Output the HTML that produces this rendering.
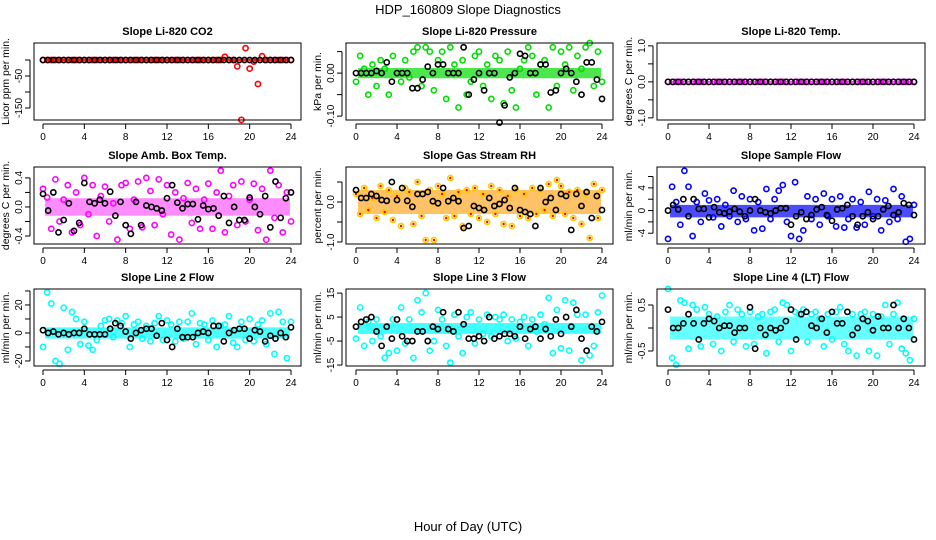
<!DOCTYPE html>
<html><head><meta charset="utf-8"><style>
body{margin:0;background:#fff;}
svg{display:block;font-family:"Liberation Sans",sans-serif;}
</style></head><body>
<svg id="chart" width="936" height="540" viewBox="0 0 936 540">
<rect width="936" height="540" fill="#fff"/>
<text x="468" y="14" text-anchor="middle" font-size="13">HDP_160809  Slope Diagnostics</text>
<text x="468" y="531" text-anchor="middle" font-size="13">Hour of Day (UTC)</text>
</svg>
<script>
const xTicks=[0,4,8,12,16,20,24];
const titles=["Slope Li-820 CO2","Slope Li-820 Pressure","Slope Li-820 Temp.","Slope Amb. Box Temp.","Slope Gas Stream RH","Slope Sample Flow","Slope Line 2 Flow","Slope Line 3 Flow","Slope Line 4 (LT) Flow"];
const yTitles=["Licor ppm per min.","kPa per min.","degrees C per min.","degrees C per min.","percent per min.","ml/min per min.","ml/min per min.","ml/min per min.","ml/min per min."];
const yTicks=[[-150,-100,-50,0],[-0.1,-0.05,0,0.05],[-1,-0.5,0,0.5,1],[-0.4,-0.2,0,0.2,0.4],[-1,-0.5,0,0.5],[-4,-2,0,2,4,6],[-20,-10,0,10,20,30],[-15,-5,5,15],[-0.5,0,0.5]];
const yLabels=[["-150","","-50",""],["-0.10","","0.00",""],["-1.0","","0.0","","1.0"],["-0.4","","0.0","","0.4"],["-1.0","","0.0",""],["-4","","0","","4",""],["-20","","0","","20",""],["-15","-5","5","15"],["-0.5","","0.5"]];
const yTop=[53.1,0.07,1.08,0.55,0.875,7.68,31.4,16.7,0.848];
const yBot=[-187.5,-0.109,-1.06,-0.51,-1.05,-5.9,-23.6,-15.4,-0.826];
const bandLo=[-4,-0.012,-0.02,-0.12,-0.3,-1.2,-4,-2,-0.25];
const bandHi=[4,0.012,0.02,0.12,0.3,1.0,4,2.5,0.25];
const bandOpacity=[0.9,0.7,0.9,0.45,0.6,0.7,0.7,0.75,0.6];
const colors=["#ff0000","#00dd00","#ff00ff","#ff00ff","#ffcc00","#0000ff","#00ffff","#00ffff","#00ffff"];
const col1=[0,0,0,0,0,0,0,0,0,0,0,0,0,0,0,0,0,0,0,0,0,0,0,0,0,0,0,0,0,0,0,0,0,0,0,0,0,0,0,0,0,0,0,0,10,0,0,-20,-187,37,-27,-5,-75,12,0,0,0,0,0,0,0];
const col2=[-.02,.04,.01,-.05,.02,-.03,.03,.01,-.05,.04,0,-.02,.03,-.01,.05,.06,-.03,.06,.05,-.04,.03,.05,-.06,.06,.02,-.08,.03,-.05,-.02,.04,.05,-.03,.02,-.06,.04,.03,-.07,.05,-.04,-.08,.01,.03,.06,.04,-.05,.02,.03,-.08,.06,-.03,.05,.02,.06,-.04,.04,.01,.06,.07,-.03,.05,-.02];
const col3=[0,0,0,0,0,0,0,0,0,0,0,0,0,0,0,0,0,0,0,0,0,0,0,0,0,0,0,0,0,0,0,0,0,0,0,0,0,0,0,0,0,0,0,0,0,0,0,0,0,0,0,0,0,0,0,0,0,0,0,0,0];
const col4=[.25,.13,-.3,.38,-.2,.1,.3,-.35,.2,-.25,.4,-.1,.3,-.4,.15,.28,-.2,.05,-.45,.3,.33,-.3,.1,.35,-.28,.4,.22,-.25,.38,-.1,.3,-.38,.2,-.45,.12,.33,-.22,.25,-.3,.1,.32,-.3,.2,.5,-.35,.15,.3,-.25,.35,-.2,.1,.32,-.32,.25,-.45,.5,-.15,.3,-.35,.2,-.2];
const col5=[.2,-.3,.35,-.2,.1,-.4,.4,-.25,.3,-.45,.15,-.6,.35,.25,-.55,.5,-.35,-.95,.3,-.95,.4,.2,-.4,.6,-.35,.25,-.6,.3,-.3,.35,-.4,.2,-.5,.4,-.3,.3,-.55,.15,-.6,.3,-.35,.2,-.4,.35,-.3,.3,-.2,.45,-.35,.55,.4,-.3,.25,-.4,.3,-.55,.2,-.9,.45,-.4,.3];
const col6=[-5,4.2,1.5,-2.5,7,4.2,-4.5,1.5,-2,3,1.8,-1.2,2,-2.8,1,-1,3.5,-2,2.5,-1.5,2,-3.5,1.5,-3.2,3.8,-1.5,2,3.5,4.5,-2,-4.5,5,-5,-3.5,2.5,-1.5,2,-2.5,3,-1,2,-2.8,2.5,-3,-1.5,2,-3,1.5,-2.5,3.3,-1,2,-3.5,1.8,-2,3.8,-1.5,2.5,-5.5,-5,1];
const col7=[-10,29,21,-20,-22,18,-12,15,10,-8,8,-9,-12,-5,5,9,10,-3,9,7,12,-10,6,8,-4,5,-6,7,12,-5,9,6,-6,8,-4,8,14,-8,7,6,-5,9,-10,5,6,12,-7,-10,8,-5,10,-6,6,9,-8,14,-15,15,8,-18,8];
const col8=[-4,9,-7,3,-5,4,-3,-12,-10,4,-9,9,-6,4,-12,12,7,15,-9,-5,8,4,-7,-14,6,-3,-10,5,7,-6,4,-2,6,-3,5,4,6,-5,4,-4,3,5,-7,4,-1,6,2,13,-10,8,-8,12,-9,11,6,-13,6,-11,-7,7,14];
const col9=[.85,-.65,-.8,.6,.55,-.45,.5,.4,-.4,.45,.3,-.35,.25,-.5,.35,.5,-.3,.4,.3,-.4,.35,-.35,.25,.3,-.55,.35,.4,-.3,.55,.5,-.5,.35,.3,.4,-.3,.3,.35,.2,-.4,.3,-.25,.35,.45,-.35,-.5,.3,-.6,.3,.35,-.5,.3,-.6,.25,.5,-.35,.3,.55,-.45,-.55,-.7,.2];
const blk1=[0,0,0,0,0,0,0,0,0,0,0,0,0,0,0,0,0,0,0,0,0,0,0,0,0,0,0,0,0,0,0,0,0,0,0,0,0,0,0,0,0,0,0,0,0,0,0,0,0];
const blk2=[0,0,0,0,.005,0,.025,-.02,0,0,0,-.035,-.035,-.015,.015,0,.02,.02,0,0,0,.06,-.05,-.015,0,-.04,0,0,-.115,-.075,-.01,0,.045,.04,0,0,.02,.02,-.045,-.04,0,.01,0,-.02,-.05,.025,.025,-.015,-.06];
const blk3=[0,0,0,0,0,0,0,0,0,0,0,0,0,0,0,0,0,0,0,0,0,0,0,0,0,0,0,0,0,0,0,0,0,0,0,0,0,0,0,0,0,0,0,0,0,0,0,0,0];
const blk4=[.18,-.05,.2,-.35,-.18,.05,-.33,-.22,.33,.07,.05,.1,.05,.21,-.12,.07,-.25,-.37,.07,-.25,.02,0,-.02,-.05,.12,.3,.06,-.02,.04,.04,-.17,.02,-.03,-.02,-.12,.15,-.22,0,-.18,-.18,.13,0,-.1,.15,-.28,.35,-.15,.12,.2];
const blk5=[.3,.1,.1,.2,.15,.05,.03,.5,.05,.35,.03,-.12,.2,.2,.25,.02,-.03,.35,.02,.1,.02,-.65,-.6,-.1,-.15,-.2,.1,-.1,-.05,.05,-.15,.35,-.2,-.25,-.3,-.6,.35,0,.1,-.2,.2,.15,-.7,.2,-.1,.25,-.4,.15,-.2];
const blk6=[0,1,.2,2,-1,2,.3,.3,-1.2,.6,-.3,-.5,-.2,.3,-.2,-1,0,2,0,-.3,-.5,0,.4,.4,-2.5,-1,-.3,-1.5,-.8,.2,.6,-.8,-1.8,.2,.4,1,-1,-2.5,-1,-.3,-1.5,-1,.2,.8,-.8,-.3,1.3,1,-.8];
const blk7=[2,0,1,-1,0,-1,0,0,3,-1,-1,-1,-1,3,7,5,1,-4,0,2,3,3,-2,7,-5,-10,3,-3,-3,-3,0,1,0,5,5,-6,0,2,3,3,-4,2,1,-6,-2,-4,0,-3,4];
const blk8=[1,3,4,5,-1,-7,1,-4,4,-3,-5,-5,-1,-1,-5,1,0,7,0,-1,7,2,-4,-4,-3,-5,5,-4,-3,-2,-2,-3,1,-4,0,1,-4,0,-3,4,-2,5,1,8,-4,-9,1,-1,3];
const blk9=[.4,0,0,.1,.3,.1,-.25,.1,.2,.15,0,.05,.05,-.1,0,0,.45,-.45,0,-.15,0,-.05,0,.15,.4,-.25,.3,.35,.05,0,.2,-.1,.35,.1,.1,.35,-.15,0,.2,.15,-.05,.25,0,0,.5,0,.2,0,-.25];

const colSeries=[col1,col2,col3,col4,col5,col6,col7,col8,col9];
const blkSeries=[blk1,blk2,blk3,blk4,blk5,blk6,blk7,blk8,blk9];
const svg=document.getElementById('chart');
const NS='http://www.w3.org/2000/svg';
const boxL=[34,346,657], boxR=[301,613,925], x0s=[43,356,668], x24s=[291,602,914];
const boxT=[43,167,289], boxB=[120,244,366];
function mk(tag,attrs,parent){const e=document.createElementNS(NS,tag);for(const k in attrs)e.setAttribute(k,attrs[k]);(parent||svg).appendChild(e);return e;}
for(let p=0;p<9;p++){
  const c=p%3,r=Math.floor(p/3);
  const g=mk('g',{});
  
  
  const L=boxL[c],R=boxR[c],T=boxT[r],B=boxB[r];
  const xs=h=>x0s[c]+(x24s[c]-x0s[c])*h/24;
  const ys=v=>T+(yTop[p]-v)/(yTop[p]-yBot[p])*(B-T);
  const t=mk('text',{x:(L+R)/2,y:T-8,'text-anchor':'middle','font-size':'11','font-weight':'bold'},g);
  t.textContent=titles[p];
  
  
  const band=mk('rect',{x:xs(0.2),y:ys(bandHi[p]),width:xs(23.9)-xs(0.2),height:ys(bandLo[p])-ys(bandHi[p]),fill:colors[p],opacity:bandOpacity[p]},g);
  
  
  if(p===4){band.setAttribute('fill','#ff9900');}
  const cs=colSeries[p];
  cs.forEach((v,i)=>{
    const cx=xs(i*24/(cs.length-1)), cy=ys(v);
    const pt=mk('circle',{cx:cx,cy:cy,r:2.6,fill:'none',stroke:colors[p],'stroke-width':1.6},g);
    
    
    if(p===4){mk('circle',{cx:cx,cy:cy,r:1.2,fill:'#ff0000'},g);}
  });
  const bs=blkSeries[p];
  bs.forEach((v,i)=>{
    const pt=mk('circle',{cx:xs(i*24/(bs.length-1)),cy:ys(v),r:2.6,fill:'none',stroke:'#000','stroke-width':1.6},g);
    
    
  });
  const box=mk('rect',{x:L,y:T,width:R-L,height:B-T,fill:'none',stroke:'#000','stroke-width':1},g);
  
  
  mk('line',{x1:xs(0),x2:xs(24),y1:B+4,y2:B+4,stroke:'#000'},g);
  xTicks.forEach(h=>{
    mk('line',{x1:xs(h),x2:xs(h),y1:B+4,y2:B+9,stroke:'#000'},g);
    const tl=mk('text',{x:xs(h),y:B+20,'text-anchor':'middle','font-size':'10'},g);
    tl.textContent=h;
    
    
  });
  const yt=yTicks[p];
  mk('line',{x1:L-4,x2:L-4,y1:ys(yt[0]),y2:ys(yt[yt.length-1]),stroke:'#000'},g);
  yt.forEach((v,i)=>{
    mk('line',{x1:L-9,x2:L-4,y1:ys(v),y2:ys(v),stroke:'#000'},g);
    if(yLabels[p][i]){
      const yl=mk('text',{x:L-12,y:ys(v),'text-anchor':'middle','font-size':'10',transform:`rotate(-90 ${L-12} ${ys(v)})`},g);
      yl.textContent=yLabels[p][i];
      
      
    }
  });
  const ya=mk('text',{x:L-25,y:(T+B)/2,'text-anchor':'middle','font-size':'10.5',transform:`rotate(-90 ${L-25} ${(T+B)/2})`},g);
  ya.textContent=yTitles[p];
  
  
}
</script>
</body></html>
